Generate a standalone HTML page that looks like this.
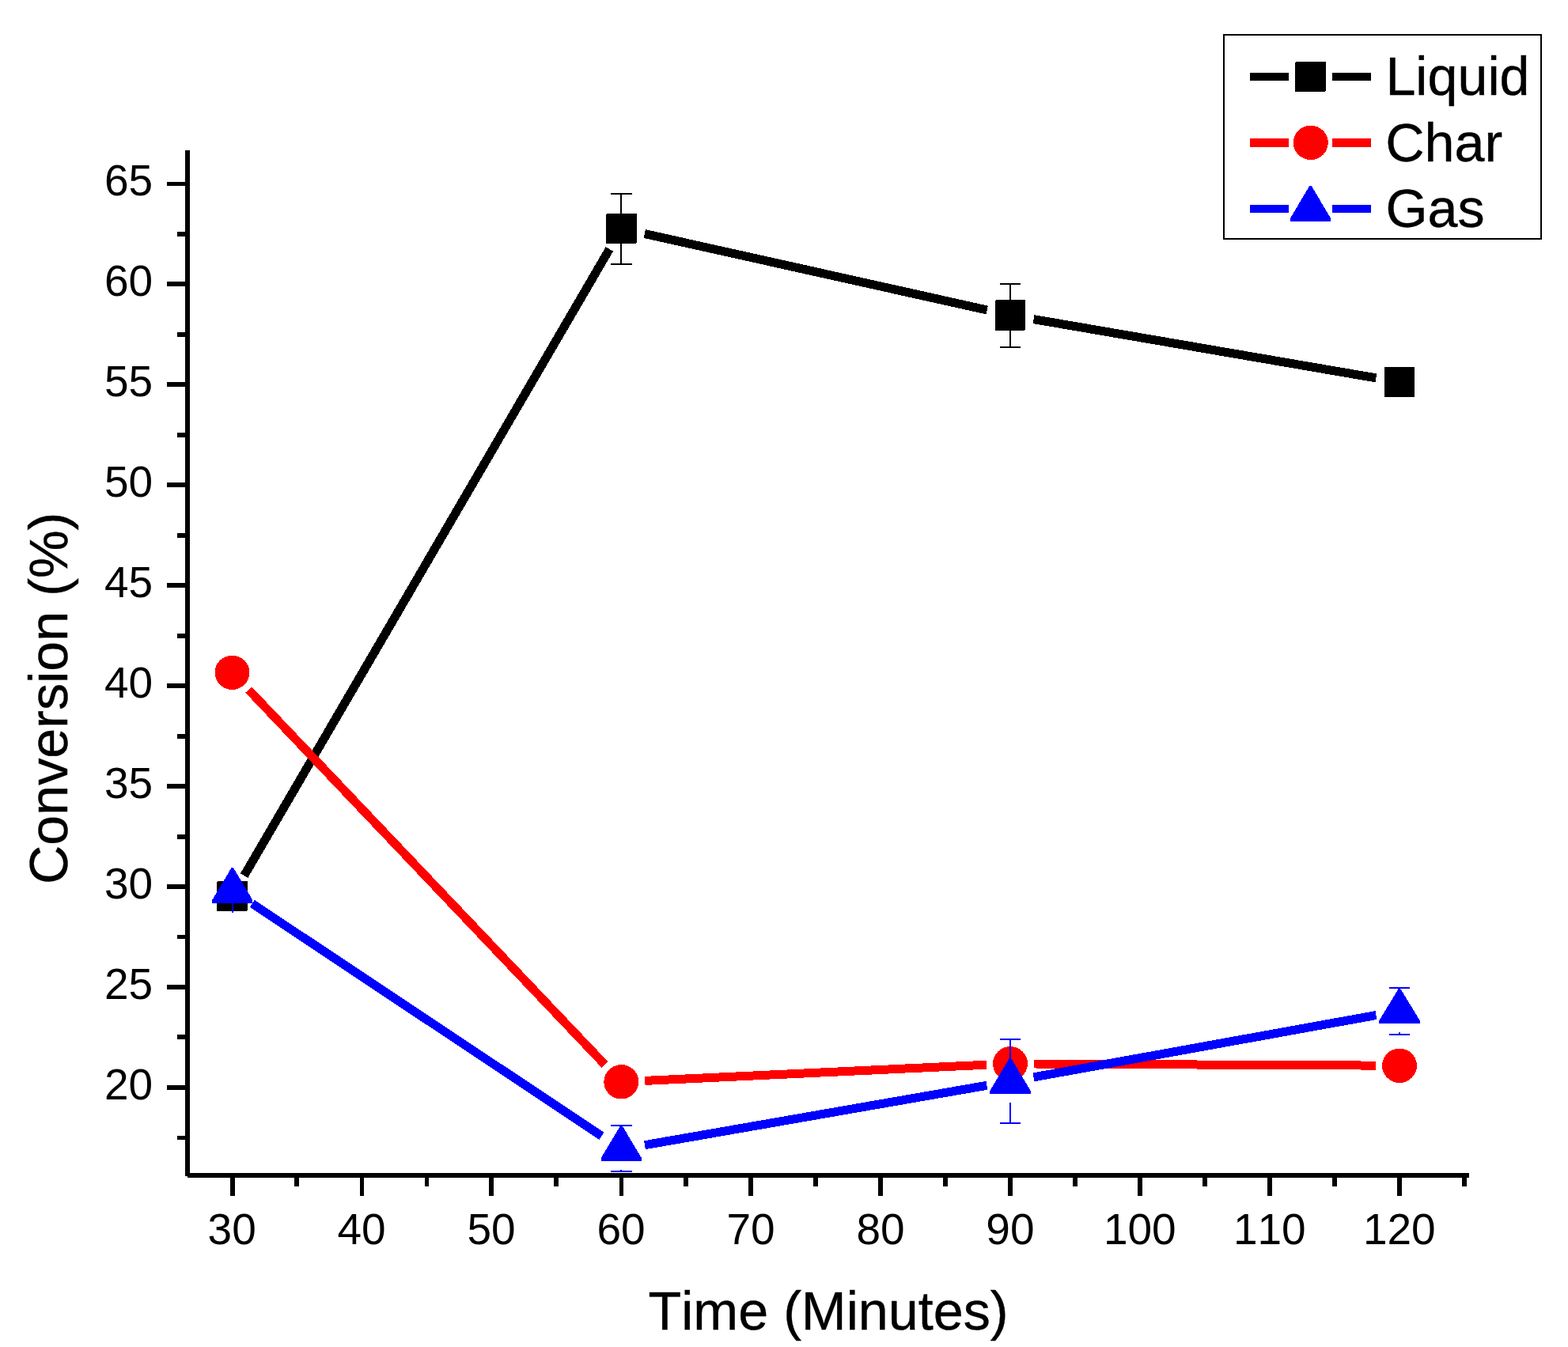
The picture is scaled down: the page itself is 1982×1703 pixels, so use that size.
<!DOCTYPE html>
<html lang="en"><head><meta charset="utf-8"><title>Conversion vs Time</title>
<style>html,body{margin:0;padding:0;background:#fff;}body{width:1982px;height:1703px;overflow:hidden;}svg{display:block;}text{font-family:"Liberation Sans",sans-serif;fill:#000;font-kerning:none;}.tk{font-size:55px;}.tt{font-size:68.25px;stroke:#000;stroke-width:0.4px;}</style>
</head><body>
<svg width="1982" height="1703" viewBox="0 0 1982 1703">
<rect x="0" y="0" width="1982" height="1703" fill="#ffffff"/>
<g shape-rendering="crispEdges" fill="#000">
<rect x="234" y="190" width="6" height="1297"/>
<rect x="237" y="1483" width="1620" height="6"/>
<rect x="211" y="230" width="24" height="5"/>
<rect x="224" y="293" width="11" height="6"/>
<rect x="211" y="356" width="24" height="6"/>
<rect x="224" y="420" width="11" height="6"/>
<rect x="211" y="483" width="24" height="6"/>
<rect x="224" y="547" width="11" height="6"/>
<rect x="211" y="610" width="24" height="6"/>
<rect x="224" y="674" width="11" height="6"/>
<rect x="211" y="737" width="24" height="6"/>
<rect x="224" y="801" width="11" height="6"/>
<rect x="211" y="864" width="24" height="6"/>
<rect x="224" y="928" width="11" height="6"/>
<rect x="211" y="991" width="24" height="6"/>
<rect x="224" y="1055" width="11" height="6"/>
<rect x="211" y="1118" width="24" height="6"/>
<rect x="224" y="1182" width="11" height="5"/>
<rect x="211" y="1245" width="24" height="6"/>
<rect x="224" y="1308" width="11" height="6"/>
<rect x="211" y="1372" width="24" height="6"/>
<rect x="224" y="1436" width="11" height="5"/>
<rect x="291" y="1488" width="6" height="24"/>
<rect x="372" y="1488" width="6" height="12"/>
<rect x="455" y="1488" width="5" height="24"/>
<rect x="537" y="1488" width="5" height="12"/>
<rect x="618" y="1488" width="6" height="24"/>
<rect x="700" y="1488" width="6" height="12"/>
<rect x="783" y="1488" width="5" height="24"/>
<rect x="864" y="1488" width="6" height="12"/>
<rect x="946" y="1488" width="6" height="24"/>
<rect x="1028" y="1488" width="6" height="12"/>
<rect x="1110" y="1488" width="6" height="24"/>
<rect x="1192" y="1488" width="6" height="12"/>
<rect x="1274" y="1488" width="6" height="24"/>
<rect x="1356" y="1488" width="6" height="12"/>
<rect x="1438" y="1488" width="6" height="24"/>
<rect x="1520" y="1488" width="6" height="12"/>
<rect x="1602" y="1488" width="6" height="24"/>
<rect x="1684" y="1488" width="6" height="12"/>
<rect x="1766" y="1488" width="6" height="24"/>
<rect x="1848" y="1488" width="6" height="12"/>
</g>
<g class="tk" text-anchor="end">
<text x="193.2" y="246.6">65</text>
<text x="193.2" y="373.6">60</text>
<text x="193.2" y="500.6">55</text>
<text x="193.2" y="627.6">50</text>
<text x="193.2" y="754.6">45</text>
<text x="193.2" y="881.6">40</text>
<text x="193.2" y="1008.6">35</text>
<text x="193.2" y="1135.6">30</text>
<text x="193.2" y="1262.6">25</text>
<text x="193.2" y="1389.6">20</text>
</g>
<g class="tk" text-anchor="middle">
<text x="293.2" y="1572.6">30</text>
<text x="457.1" y="1572.6">40</text>
<text x="621.1" y="1572.6">50</text>
<text x="785.0" y="1572.6">60</text>
<text x="949.0" y="1572.6">70</text>
<text x="1113.0" y="1572.6">80</text>
<text x="1276.9" y="1572.6">90</text>
<text x="1440.8" y="1572.6">100</text>
<text x="1604.8" y="1572.6">110</text>
<text x="1768.8" y="1572.6">120</text>
</g>
<text class="tt" x="819.5" y="1680.8">Time (Minutes)</text>
<text class="tt" transform="translate(85 1118) rotate(-90)">Conversion (%)</text>
<g shape-rendering="crispEdges">
<line x1="308.6" y1="1107.1" x2="770.4" y2="314.9" stroke="#000" stroke-width="11"/>
<line x1="814.8" y1="295.5" x2="1247.7" y2="392.0" stroke="#000" stroke-width="11"/>
<line x1="1306.6" y1="403.6" x2="1739.4" y2="477.9" stroke="#000" stroke-width="11"/>
<rect x="784.0" y="245.0" width="2" height="89.0" fill="#000"/>
<rect x="772" y="244.0" width="27" height="2" fill="#000"/>
<rect x="772" y="333.0" width="27" height="2" fill="#000"/>
<rect x="1276.0" y="359.0" width="2" height="80.0" fill="#000"/>
<rect x="1264" y="358.0" width="26" height="2" fill="#000"/>
<rect x="1264" y="438.0" width="26" height="2" fill="#000"/>
<rect x="274" y="1114" width="39" height="38" rx="2" fill="#000"/>
<rect x="766" y="270" width="39" height="38" rx="2" fill="#000"/>
<rect x="1258" y="379" width="38" height="39" rx="2" fill="#000"/>
<rect x="1750" y="464" width="38" height="38" rx="0" fill="#000"/>
<line x1="314.2" y1="872.0" x2="764.6" y2="1346.1" stroke="#f00" stroke-width="11"/>
<line x1="815.3" y1="1366.4" x2="1247.0" y2="1346.2" stroke="#f00" stroke-width="11"/>
<line x1="1307.0" y1="1345.0" x2="1739.0" y2="1347.1" stroke="#f00" stroke-width="11"/>
<ellipse cx="293.5" cy="850.3" rx="22" ry="21.7" fill="#f00"/>
<ellipse cx="785.3" cy="1367.8" rx="22" ry="21.7" fill="#f00"/>
<ellipse cx="1277.0" cy="1344.8" rx="22" ry="21.7" fill="#f00"/>
<ellipse cx="1769.0" cy="1347.3" rx="22" ry="21.7" fill="#f00"/>
<line x1="318.8" y1="1142.4" x2="760.4" y2="1436.2" stroke="#00f" stroke-width="11"/>
<line x1="815.0" y1="1447.7" x2="1247.4" y2="1372.3" stroke="#00f" stroke-width="11"/>
<line x1="1306.5" y1="1361.9" x2="1739.5" y2="1283.5" stroke="#00f" stroke-width="11"/>
<rect x="784.4" y="1479.0" width="2" height="2.0" fill="#00f"/>
<rect x="772" y="1422.0" width="27" height="2" fill="#00f"/>
<rect x="772" y="1480.0" width="27" height="2" fill="#00f"/>
<rect x="1276.0" y="1314.0" width="2" height="26.0" fill="#00f"/>
<rect x="1276.0" y="1394.0" width="2" height="26.0" fill="#00f"/>
<rect x="1264" y="1313.0" width="26" height="2" fill="#00f"/>
<rect x="1264" y="1419.0" width="26" height="2" fill="#00f"/>
<rect x="1768.0" y="1305.0" width="2" height="3.0" fill="#00f"/>
<rect x="1756" y="1248.0" width="26" height="2" fill="#00f"/>
<rect x="1756" y="1307.0" width="26" height="2" fill="#00f"/>
<polygon points="292.6,1097.0 295.0,1097.0 319.4,1138.0 319.4,1142.0 268.2,1142.0 268.2,1138.0" fill="#00f"/>
<polygon points="784.2,1423.3 786.6,1423.3 811.0,1464.0 811.0,1468.0 759.8,1468.0 759.8,1464.0" fill="#00f"/>
<polygon points="1275.8,1338.0 1278.2,1338.0 1302.6,1379.0 1302.6,1383.0 1251.4,1383.0 1251.4,1379.0" fill="#00f"/>
<polygon points="1767.8,1250.0 1770.2,1250.0 1794.6,1290.0 1794.6,1294.0 1743.4,1294.0 1743.4,1290.0" fill="#00f"/>
<rect x="293.2" y="1140.0" width="2" height="14.0" fill="#00f"/>
</g>
<g shape-rendering="crispEdges">
<rect x="1547" y="44" width="401" height="258" fill="#fff" stroke="#000" stroke-width="2"/>
<rect x="1580" y="92" width="49" height="10" fill="#000"/>
<rect x="1684" y="92" width="49" height="10" fill="#000"/>
<rect x="1580" y="175" width="49" height="11" fill="#f00"/>
<rect x="1684" y="175" width="49" height="11" fill="#f00"/>
<rect x="1580" y="259" width="49" height="10" fill="#00f"/>
<rect x="1684" y="259" width="49" height="10" fill="#00f"/>
<rect x="1637" y="78" width="39" height="38" rx="2" fill="#000"/>
<ellipse cx="1656.8" cy="180.4" rx="22" ry="21.7" fill="#f00"/>
<polygon points="1655.3,235.0 1657.7,235.0 1682.1,276.0 1682.1,280.0 1630.9,280.0 1630.9,276.0" fill="#00f"/>
</g>
<text class="tt" x="1751.4" y="119.8">Liquid</text>
<text class="tt" x="1751.3" y="204.1">Char</text>
<text class="tt" x="1751.4" y="287">Gas</text>
</svg>
</body></html>
